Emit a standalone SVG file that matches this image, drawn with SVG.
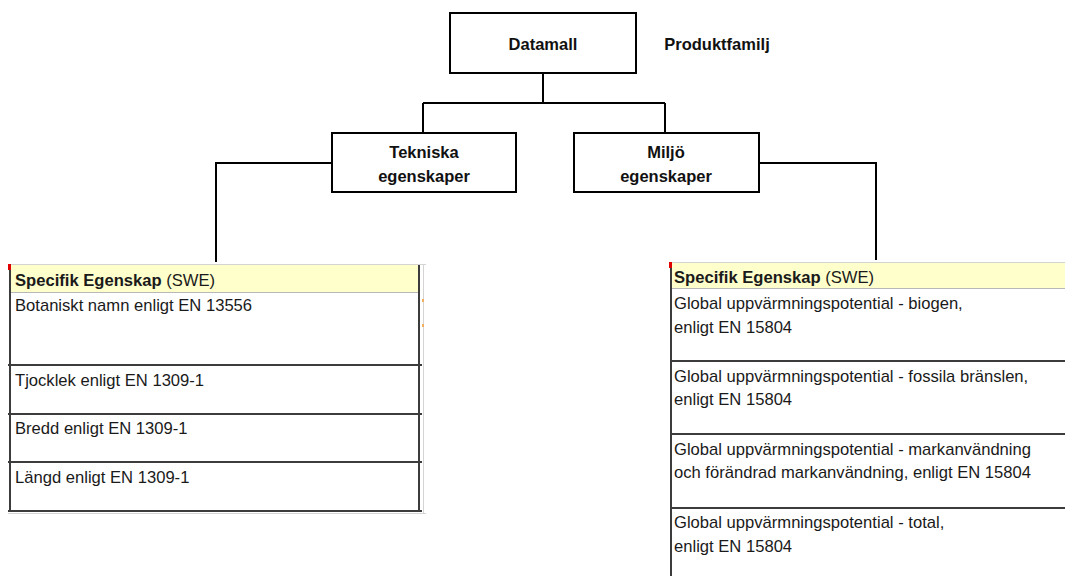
<svg xmlns="http://www.w3.org/2000/svg" width="1065" height="576" viewBox="0 0 1065 576">
  <style>
    .box { fill: #ffffff; stroke: #000000; stroke-width: 2; }
    .wire { fill: none; stroke: #000000; stroke-width: 2; }
    .lbl { font-family: "Liberation Sans", Arial, sans-serif; font-size: 16.5px; font-weight: bold; fill: #111111; text-anchor: middle; }
    .cell { font-family: "Liberation Sans", Arial, sans-serif; font-size: 16.6px; fill: #1a1a1a; }
    .hdr { fill: #ffffcc; }
    .grid { stroke: #3c3c3c; stroke-width: 2; fill: none; }
    .faint { stroke: #d4d4d4; stroke-width: 1; fill: none; }
  </style>

  <rect width="1065" height="576" fill="#ffffff"/>

  <!-- connectors -->
  <g id="connectors">
    <path class="wire" d="M543 73 V103 M423 103 H665 M423 103 V133 M665 103 V133"/>
    <path class="wire" d="M332 163 H216 V262"/>
    <path class="wire" d="M759 163 H876 V260"/>
  </g>

  <!-- root node -->
  <g id="datamall">
    <rect class="box" x="450" y="13" width="186" height="60"/>
    <text class="lbl" x="543" y="50" font-size="17.5">Datamall</text>
  </g>
  <g id="produktfamilj">
    <text class="lbl" x="717" y="50" font-size="17.5">Produktfamilj</text>
  </g>

  <!-- second level -->
  <g id="tekniska">
    <rect class="box" x="332" y="133" width="184" height="59"/>
    <text class="lbl" x="424" y="158">Tekniska</text>
    <text class="lbl" x="424" y="182">egenskaper</text>
  </g>
  <g id="miljo">
    <rect class="box" x="574" y="133" width="185" height="59"/>
    <text class="lbl" x="666" y="158">Miljö</text>
    <text class="lbl" x="666" y="182">egenskaper</text>
  </g>

  <!-- technical property table -->
  <g id="tekniska-tabell">
    <rect class="hdr" x="10" y="265" width="409" height="27"/>
    <path class="faint" d="M8 264.5 H426 M423.5 264 V514 M8 513.5 H426"/>
    <path class="faint" d="M10 292.5 H419" style="stroke:#b8b8b8"/>
    <path class="grid" d="M10 265 V512 M419 265 V512 M8 365 H422 M8 414 H422 M8 462 H422 M8 511 H422"/>
    <rect x="8" y="264" width="3" height="6" fill="#e00000"/>
    <rect x="422" y="299" width="2" height="3" fill="#f0b060"/>
    <rect x="422" y="324" width="2" height="3" fill="#f0b060"/>
    <text class="cell" x="15" y="286"><tspan font-weight="bold">Specifik Egenskap</tspan> (SWE)</text>
    <text class="cell" x="15" y="311">Botaniskt namn enligt EN 13556</text>
    <text class="cell" x="15" y="386">Tjocklek enligt EN 1309-1</text>
    <text class="cell" x="15" y="434">Bredd enligt EN 1309-1</text>
    <text class="cell" x="15" y="483">Längd enligt EN 1309-1</text>
  </g>

  <!-- environmental property table -->
  <g id="miljo-tabell">
    <rect class="hdr" x="671" y="263" width="394" height="25"/>
    <path class="faint" d="M669 262.5 H1065"/>
    <path class="faint" d="M671 288.5 H1065" style="stroke:#b8b8b8"/>
    <path class="grid" d="M671 263 V576 M671 361 H1065 M671 434 H1065 M671 508 H1065"/>
    <rect x="669" y="262" width="3" height="6" fill="#e00000"/>
    <text class="cell" x="674" y="283"><tspan font-weight="bold">Specifik Egenskap</tspan> (SWE)</text>
    <text class="cell" x="674" y="309">Global uppvärmningspotential - biogen,</text>
    <text class="cell" x="674" y="333">enligt EN 15804</text>
    <text class="cell" x="674" y="382">Global uppvärmningspotential - fossila bränslen,</text>
    <text class="cell" x="674" y="405">enligt EN 15804</text>
    <text class="cell" x="674" y="455">Global uppvärmningspotential - markanvändning</text>
    <text class="cell" x="674" y="478">och förändrad markanvändning, enligt EN 15804</text>
    <text class="cell" x="674" y="528">Global uppvärmningspotential - total,</text>
    <text class="cell" x="674" y="552">enligt EN 15804</text>
  </g>
</svg>
